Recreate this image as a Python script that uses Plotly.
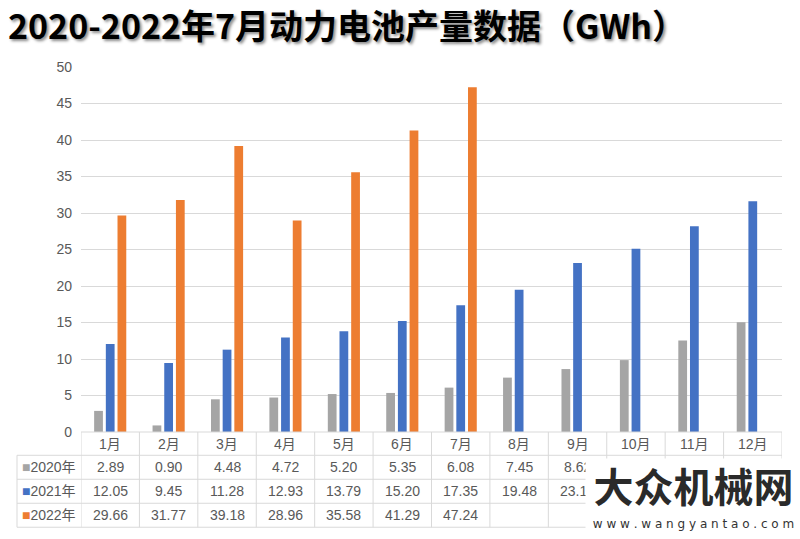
import plotly.graph_objects as go

months = ["1月", "2月", "3月", "4月", "5月", "6月", "7月", "8月", "9月", "10月", "11月", "12月"]
series_names = ["2020年", "2021年", "2022年"]
y2020 = [2.89, 0.90, 4.48, 4.72, 5.20, 5.35, 6.08, 7.45, 8.62, 9.85, 12.55, 15.05]
y2021 = [12.05, 9.45, 11.28, 12.93, 13.79, 15.20, 17.35, 19.48, 23.15, 25.10, 28.20, 31.60]
y2022 = [29.66, 31.77, 39.18, 28.96, 35.58, 41.29, 47.24, None, None, None, None, None]
colors = ["#A5A5A5", "#4472C4", "#ED7D31"]
title_text = "2020-2022年7月动力电池产量数据（GWh）"
watermark_cn = "大众机械网"
watermark_url = "www.wangyantao.com"

W, H = 800, 539
L, R, T, B = 81, 18, 66.5, 539 - 431.7
plot_h = H - T - B
plot_w = W - L - R


def py(px):
    """pixel y (from top) -> paper y"""
    return (H - B - px) / plot_h


def pxx(px):
    return (px - L) / plot_w


fig = go.Figure()
for name, vals, col in zip(series_names, [y2020, y2021, y2022], colors):
    fig.add_trace(go.Bar(name=name, x=months, y=vals, marker_color=col,
                         marker_line_width=0, showlegend=False))

shapes = []
line_col = "#D9D9D9"
shapes.append(dict(type="line", xref="paper", yref="paper", x0=0, x1=1,
                   y0=py(431.7), y1=py(431.7), line=dict(color=line_col, width=1)))
for ypx in [455, 479, 503, 527]:
    shapes.append(dict(type="line", xref="paper", yref="paper", x0=pxx(17), x1=1,
                       y0=py(ypx), y1=py(ypx), line=dict(color=line_col, width=1)))
for i in range(len(months) + 1):
    shapes.append(dict(type="line", xref="x", yref="paper", x0=i - 0.5, x1=i - 0.5,
                       y0=py(431.7), y1=py(527), line=dict(color=line_col, width=1)))
shapes.append(dict(type="line", xref="paper", yref="paper", x0=pxx(17), x1=pxx(17),
                   y0=py(455), y1=py(527), line=dict(color=line_col, width=1)))

annos = []
tfont = dict(family="Liberation Sans, Noto Sans CJK SC", size=14, color="#595959")
for m in months:
    annos.append(dict(x=m, xref="x", y=py(443.5), yref="paper", text=m, showarrow=False,
                      font=tfont, xanchor="center", yanchor="middle"))
row_y = [467, 491, 515]
hidden_by_watermark = {"10月", "11月", "12月"}
for r, (name, vals, col) in enumerate(zip(series_names, [y2020, y2021, y2022], colors)):
    annos.append(dict(x=pxx(48.5), xref="paper", y=py(row_y[r]), yref="paper",
                      text=f'<span style="color:{col}">■</span>{name}', showarrow=False,
                      font=tfont, xanchor="center", yanchor="middle"))
    for m, v in zip(months, vals):
        if v is None or m in hidden_by_watermark:
            continue
        annos.append(dict(x=m, xref="x", y=py(row_y[r]), yref="paper", text=f"{v:.2f}",
                          showarrow=False, font=tfont, xanchor="center", yanchor="middle"))

# watermark (as in the reference image)
annos.append(dict(x=pxx(585), xref="paper", y=py(458), yref="paper",
                  text=f"<b>{watermark_cn}</b>", showarrow=False, bgcolor="white",
                  font=dict(family="Noto Sans CJK SC", size=40, color="#2a2a2a"),
                  xanchor="left", yanchor="top", width=215, height=52, align="center",
                  valign="middle", borderpad=0))
annos.append(dict(x=pxx(585), xref="paper", y=py(510), yref="paper",
                  text=" ".join(watermark_url), showarrow=False, bgcolor="white",
                  font=dict(family="DejaVu Sans", size=12, color="#333333"),
                  xanchor="left", yanchor="top", width=215, height=25, align="center",
                  valign="middle", borderpad=0))

fig.update_layout(
    width=W, height=H,
    margin=dict(l=L, r=R, t=T, b=B),
    paper_bgcolor="white", plot_bgcolor="white",
    barmode="group", bargap=0.4, bargroupgap=0.25,
    title=dict(text=title_text, xref="container", yref="container", x=8 / W,
               y=1 - 27 / H, xanchor="left", yanchor="middle",
               font=dict(family="Noto Sans CJK SC", size=34, color="black", weight="bold",
                         shadow="2px 2px 3px #8a8a8a")),
    xaxis=dict(type="category", range=[-0.5, 11.5], showticklabels=False, showgrid=False,
               zeroline=False, showline=False, ticks=""),
    yaxis=dict(range=[0, 50], dtick=5, showgrid=True, gridcolor="#D9D9D9", gridwidth=1,
               zeroline=False, showline=False, ticks="",
               tickfont=dict(family="Liberation Sans", size=14, color="#595959"),
               ticklabelstandoff=8),
    shapes=shapes, annotations=annos,
)

fig.write_html("out.html", config={"displayModeBar": False},
               post_script="document.body.style.margin='0px';document.body.style.overflow='hidden';")
